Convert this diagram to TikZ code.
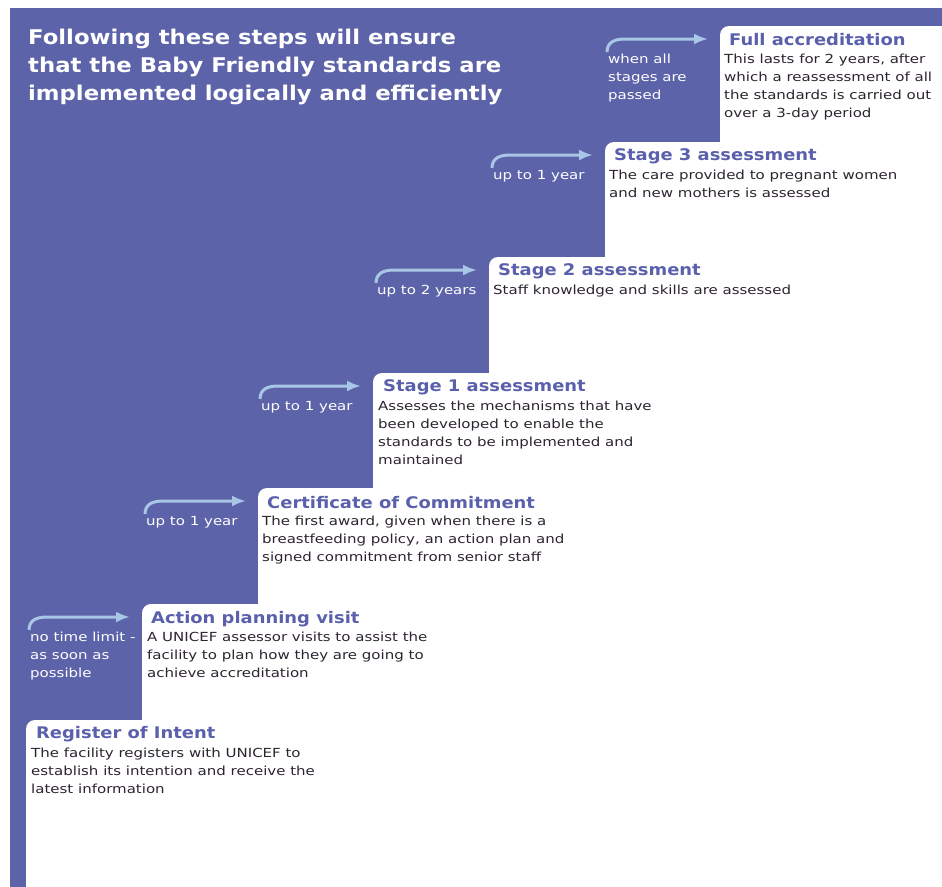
\documentclass[tikz,border=0pt]{standalone}
\usepackage{fontspec}
\setmainfont{DejaVu Sans}
\newfontfamily\headfont{DejaVu Sans}[FakeStretch=1.12]
\newfontfamily\titlefont{DejaVu Sans}[FakeStretch=1.12]
\newfontfamily\stepfont{DejaVu Sans}[FakeStretch=1.2]
\usetikzlibrary{arrows.meta}

\definecolor{stairblue}{RGB}{92,99,168}
\definecolor{titleblue}{RGB}{90,96,172}
\definecolor{arrowblue}{RGB}{168,198,230}
\definecolor{bodytext}{RGB}{45,36,48}

\begin{document}
\begin{tikzpicture}
        [x=1pt, y=-1pt,
        title/.style={anchor=west, inner sep=0, font=\titlefont\bfseries\fontsize{16}{18}\selectfont, text=titleblue},
        body/.style={anchor=north west, inner sep=0, align=left, font=\stepfont\fontsize{12.5}{18}\selectfont, text=bodytext},
        waittext/.style={anchor=north west, inner sep=0, align=left, font=\stepfont\fontsize{12.5}{18}\selectfont, text=white},
        steparrow/.style={arrowblue, line width=3pt, -{Latex[length=14pt,width=11pt]}}]

        \useasboundingbox (0,0) rectangle (942,886);
        \clip (0,0) rectangle (942,886);

        % blue background and the white steps
        \fill[white] (0,0) rectangle (942,886);
        \fill[stairblue] (10,8) rectangle (960,900);
        \foreach \x/\y in {720/26, 605/142, 489/257, 373/373, 258/488, 142/604, 26/720}
            \fill[white, rounded corners=9pt] (\x,\y) rectangle (960,900);

        % heading
        \node[anchor=north west, inner sep=0, align=left, text=white,
              font=\headfont\bfseries\fontsize{20.3}{28}\selectfont] (head) at (28,29)
              {Following these steps will ensure\\that the Baby Friendly standards are\\implemented logically and efficiently};

        % step titles
        \node[title] (acc) at (729,40) {Full accreditation};
        \node[title] (st3) at (614,156) {Stage 3 assessment};
        \node[title] (st2) at (498,271) {Stage 2 assessment};
        \node[title] (st1) at (383,387) {Stage 1 assessment};
        \node[title] (coc) at (267,503) {Certificate of Commitment};
        \node[title] (apv) at (151,619) {Action planning visit};
        \node[title] (roi) at (36,734) {Register of Intent};

        % step descriptions
        \node[body] (acc-txt) at (724,54) {This lasts for 2 years, after\\which a reassessment of all\\the standards is carried out\\over a 3-day period};
        \node[body] (st3-txt) at (609,170) {The care provided to pregnant women\\and new mothers is assessed};
        \node[body] (st2-txt) at (493,285) {Staff knowledge and skills are assessed};
        \node[body] (st1-txt) at (378,401) {Assesses the mechanisms that have\\been developed to enable the\\standards to be implemented and\\maintained};
        \node[body] (coc-txt) at (262,516) {The first award, given when there is a\\breastfeeding policy, an action plan and\\signed commitment from senior staff};
        \node[body] (apv-txt) at (147,632) {A UNICEF assessor visits to assist the\\facility to plan how they are going to\\achieve accreditation};
        \node[body] (roi-txt) at (31,748) {The facility registers with UNICEF to\\establish its intention and receive the\\latest information};

        % time between steps
        \node[waittext] (acc-wait) at (608,54) {when all\\stages are\\passed};
        \node[waittext] (st3-wait) at (493,170) {up to 1 year};
        \node[waittext] (st2-wait) at (377,285) {up to 2 years};
        \node[waittext] (st1-wait) at (261,401) {up to 1 year};
        \node[waittext] (coc-wait) at (146,516) {up to 1 year};
        \node[waittext] (apv-wait) at (30,632) {no time limit -\\as soon as\\possible};

        % arrows
        \coordinate (acc-from) at (607,52);  \coordinate (acc-to) at (708,39);
        \coordinate (st3-from) at (492,168); \coordinate (st3-to) at (593,155);
        \coordinate (st2-from) at (376,283); \coordinate (st2-to) at (477,270);
        \coordinate (st1-from) at (260,399); \coordinate (st1-to) at (361,386);
        \coordinate (coc-from) at (145,514); \coordinate (coc-to) at (246,501);
        \coordinate (apv-from) at (29,630);  \coordinate (apv-to) at (130,617);

        \draw[steparrow] (acc-from) .. controls +(0,-10) and +(-10,0) .. ++(18,-13) -- (acc-to);
        \draw[steparrow] (st3-from) .. controls +(0,-10) and +(-10,0) .. ++(18,-13) -- (st3-to);
        \draw[steparrow] (st2-from) .. controls +(0,-10) and +(-10,0) .. ++(18,-13) -- (st2-to);
        \draw[steparrow] (st1-from) .. controls +(0,-10) and +(-10,0) .. ++(18,-13) -- (st1-to);
        \draw[steparrow] (coc-from) .. controls +(0,-10) and +(-10,0) .. ++(18,-13) -- (coc-to);
        \draw[steparrow] (apv-from) .. controls +(0,-10) and +(-10,0) .. ++(18,-13) -- (apv-to);

\end{tikzpicture}
\end{document}
